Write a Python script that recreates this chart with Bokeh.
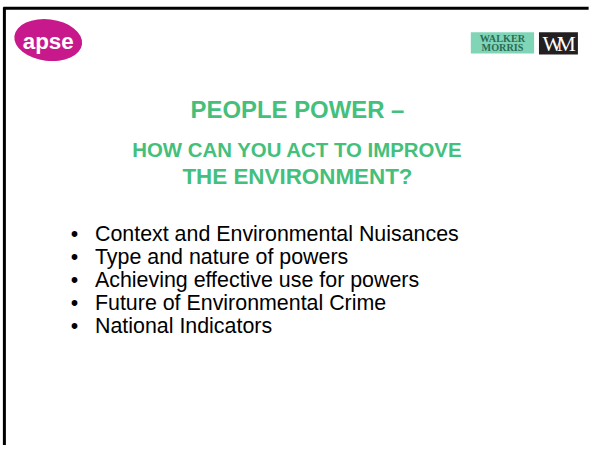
from bokeh.plotting import figure
from bokeh.models import Range1d
from bokeh.core.properties import value
from bokeh.embed import file_html
from bokeh.resources import INLINE

# ---- content ----
title_lines = ["PEOPLE POWER \u2013", "HOW CAN YOU ACT TO IMPROVE", "THE ENVIRONMENT?"]
bullet_items = [
    "Context and Environmental Nuisances",
    "Type and nature of powers",
    "Achieving effective use for powers",
    "Future of Environmental Crime",
    "National Indicators",
]
logo_left_text = "apse"
logo_right_words = ["WALKER", "MORRIS"]

W, H = 593, 445
REF_W, REF_H = 609, 461
S = W / REF_W  # font scale so the slide keeps its proportions


def px(v):
    return f"{v * S:.1f}px"


p = figure(width=W, height=H, output_backend="svg", toolbar_location=None,
           x_range=Range1d(0, REF_W), y_range=Range1d(REF_H, 0),
           min_border=0, outline_line_color=None, background_fill_color="white",
           border_fill_color="white")
p.axis.visible = False
p.grid.visible = False

# slide frame (top and left edges)
p.segment(x0=[3], y0=[8], x1=[604], y1=[8], line_color="black", line_width=3)
p.segment(x0=[4], y0=[7], x1=[4], y1=[461], line_color="black", line_width=3)

# apse logo
p.ellipse(x=[49], y=[41], width=[70], height=[43], angle=[-0.12],
          fill_color="#c8198c", line_color=None)
p.text(x=[49], y=[42], text=[logo_left_text], text_color="white",
       text_font=value("Liberation Sans"), text_font_style="bold",
       text_font_size=px(23), text_align="center", text_baseline="middle")

# Walker Morris logo
p.quad(left=[483], right=[548], top=[33], bottom=[55], fill_color="#80d5b7", line_color=None)
p.quad(left=[553], right=[593], top=[33], bottom=[56], fill_color="#231f20", line_color=None)
p.text(x=[515.5, 515.5], y=[39.5, 49], text=logo_right_words, text_color="#2b6b55",
       text_font=value("Liberation Serif"), text_font_style="bold",
       text_font_size=px(10.5), text_align="center", text_baseline="middle")
p.text(x=[567, 581], y=[45, 45], text=["W", "M"], text_color="white",
       text_font=value("Liberation Serif"), text_font_size=px(22),
       text_align="center", text_baseline="middle")

# title
title_y = [113, 155, 182]
title_sizes = [24.5, 21, 23]
for t, y, s in zip(title_lines, title_y, title_sizes):
    p.text(x=[305], y=[y], text=[t], text_color="#44bf7c",
           text_font=value("Liberation Sans"), text_font_style="bold",
           text_font_size=px(s), text_align="center", text_baseline="middle")

# bullets
bullet_y = [242, 266, 290, 313, 337]
p.text(x=[76] * len(bullet_items), y=bullet_y, text=["\u2022"] * len(bullet_items),
       text_color="black", text_font=value("Liberation Sans"), text_font_size=px(22),
       text_align="center", text_baseline="middle")
p.text(x=[97] * len(bullet_items), y=bullet_y, text=bullet_items,
       text_color="black", text_font=value("Liberation Sans"), text_font_size=px(22),
       text_align="left", text_baseline="middle")

open("out.html", "w").write(file_html(p, INLINE))
